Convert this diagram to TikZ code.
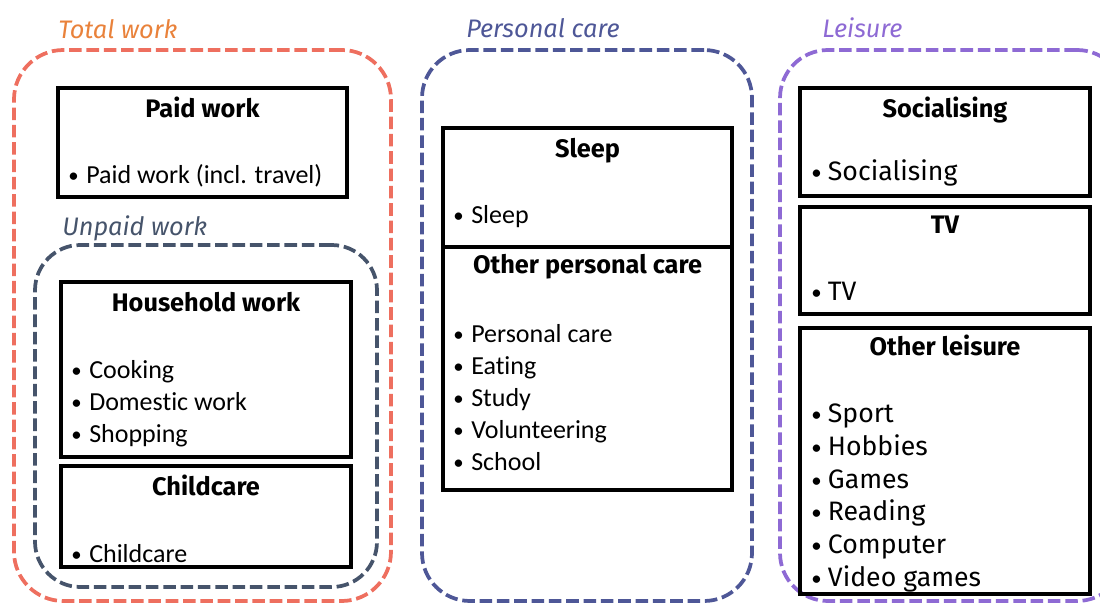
\documentclass[tikz,border=0pt]{standalone}
\usepackage{fontspec}
\setmainfont[Ligatures=NoCommon]{Carlito}
\newfontfamily\headfont{Fira Sans}
\usetikzlibrary{fit}
\definecolor{totalc}{HTML}{EE6F5F}
\definecolor{totallab}{HTML}{E9823B}
\definecolor{unpaidc}{HTML}{46546B}
\definecolor{personalc}{HTML}{4E5797}
\definecolor{leisurec}{HTML}{8E6AD4}
\tikzset{
  grp/.style={draw, line width=2.8pt, dash pattern=on 9.4pt off 3.6pt, inner sep=0pt, rounded corners=#1},
  catbox/.style={draw=black, line width=3pt, inner sep=0pt},
  grplab/.style={font=\headfont\itshape\fontsize{19}{22}\selectfont, anchor=base west, inner sep=0pt},
  ttl/.style={font=\headfont\bfseries\fontsize{19}{22}\selectfont, anchor=base, inner sep=0pt},
  itm/.style={font=\fontsize{19.5}{22}\selectfont, anchor=base west, inner sep=0pt},
  itmL/.style={font=\headfont\fontsize{20}{22}\selectfont, anchor=base west, inner sep=0pt},
}
\newcommand\bulletit[1]{\makebox[13.5pt][l]{\raisebox{0.5pt}{\scalebox{0.8}{•}}}#1}
\newcommand\bulletL[1]{\makebox[12.5pt][l]{\raisebox{0.5pt}{\normalfont\fontsize{19.5}{22}\selectfont\scalebox{0.8}{•}}}#1}
\begin{document}
\begin{tikzpicture}[x=0.75pt,y=-0.75pt]
\useasboundingbox (0,0) rectangle (1100,603);
\clip (0,0) rectangle (1100,603);
% group frames
\node[grp=37pt, draw=totalc, fit={(14,50) (391,601)}] (total) {};
\node[grp=34pt, draw=unpaidc, fit={(35,245) (377,587)}] (unpaid) {};
\node[grp=36pt, draw=personalc, fit={(422,50) (752,601)}] (personal) {};
\node[grp=36pt, draw=leisurec, fit={(780,50) (1125,601)}] (leisure) {};
% group labels
\node[grplab, text=totallab] (totalL) at (58,38) {Total work};
\node[grplab, text=unpaidc] (unpaidL) at (62,235) {Unpaid work};
\node[grplab, text=personalc] (personalL) at (466,37) {Personal care};
\node[grplab, text=leisurec] (leisureL) at (822,37) {Leisure};
% category boxes
\node[catbox, fit={(58,88) (347,197)}] (paid) {};
\node[catbox, fit={(61,282) (351,457)}] (house) {};
\node[catbox, fit={(61,466) (351,567)}] (child) {};
\node[catbox, fit={(443,128) (732,247)}] (sleep) {};
\node[catbox, fit={(443,247) (732,490)}] (opc) {};
\node[catbox, fit={(800,88) (1090,196)}] (social) {};
\node[catbox, fit={(800,207) (1090,314)}] (tv) {};
\node[catbox, fit={(800,328) (1090,594)}] (oleis) {};
% titles
\node[ttl] (paidT) at (202.5,117) {Paid work};
\node[ttl] (houseT) at (206,311) {Household work};
\node[ttl] (childT) at (206,495) {Childcare};
\node[ttl] (sleepT) at (587.5,157) {Sleep};
\node[ttl] (opcT) at (587.5,273) {Other personal care};
\node[ttl] (socialT) at (945,117) {Socialising};
\node[ttl] (tvT) at (945,233) {TV};
\node[ttl] (oleisT) at (945,355) {Other leisure};
% items
\node[itm] (i1) at (68,183) {\bulletit{Paid work (incl. travel)}};
\node[itm] (i2) at (71,378) {\bulletit{Cooking}};
\node[itm] (i3) at (71,410) {\bulletit{Domestic work}};
\node[itm] (i4) at (71,442) {\bulletit{Shopping}};
\node[itm] (i5) at (71,562) {\bulletit{Childcare}};
\node[itm] (i6) at (453,223) {\bulletit{Sleep}};
\node[itm] (i7) at (453,342) {\bulletit{Personal care}};
\node[itm] (i8) at (453,374) {\bulletit{Eating}};
\node[itm] (i9) at (453,406) {\bulletit{Study}};
\node[itm] (i10) at (453,438) {\bulletit{Volunteering}};
\node[itm] (i11) at (453,470) {\bulletit{School}};
\node[itmL] (j1) at (811,180) {\bulletL{Socialising}};
\node[itmL] (j2) at (811,300) {\bulletL{TV}};
\node[itmL] (j3) at (811,422) {\bulletL{Sport}};
\node[itmL] (j4) at (811,455) {\bulletL{Hobbies}};
\node[itmL] (j5) at (811,488) {\bulletL{Games}};
\node[itmL] (j6) at (811,520) {\bulletL{Reading}};
\node[itmL] (j7) at (811,553) {\bulletL{Computer}};
\node[itmL] (j8) at (811,586) {\bulletL{Video games}};
\end{tikzpicture}
\end{document}
